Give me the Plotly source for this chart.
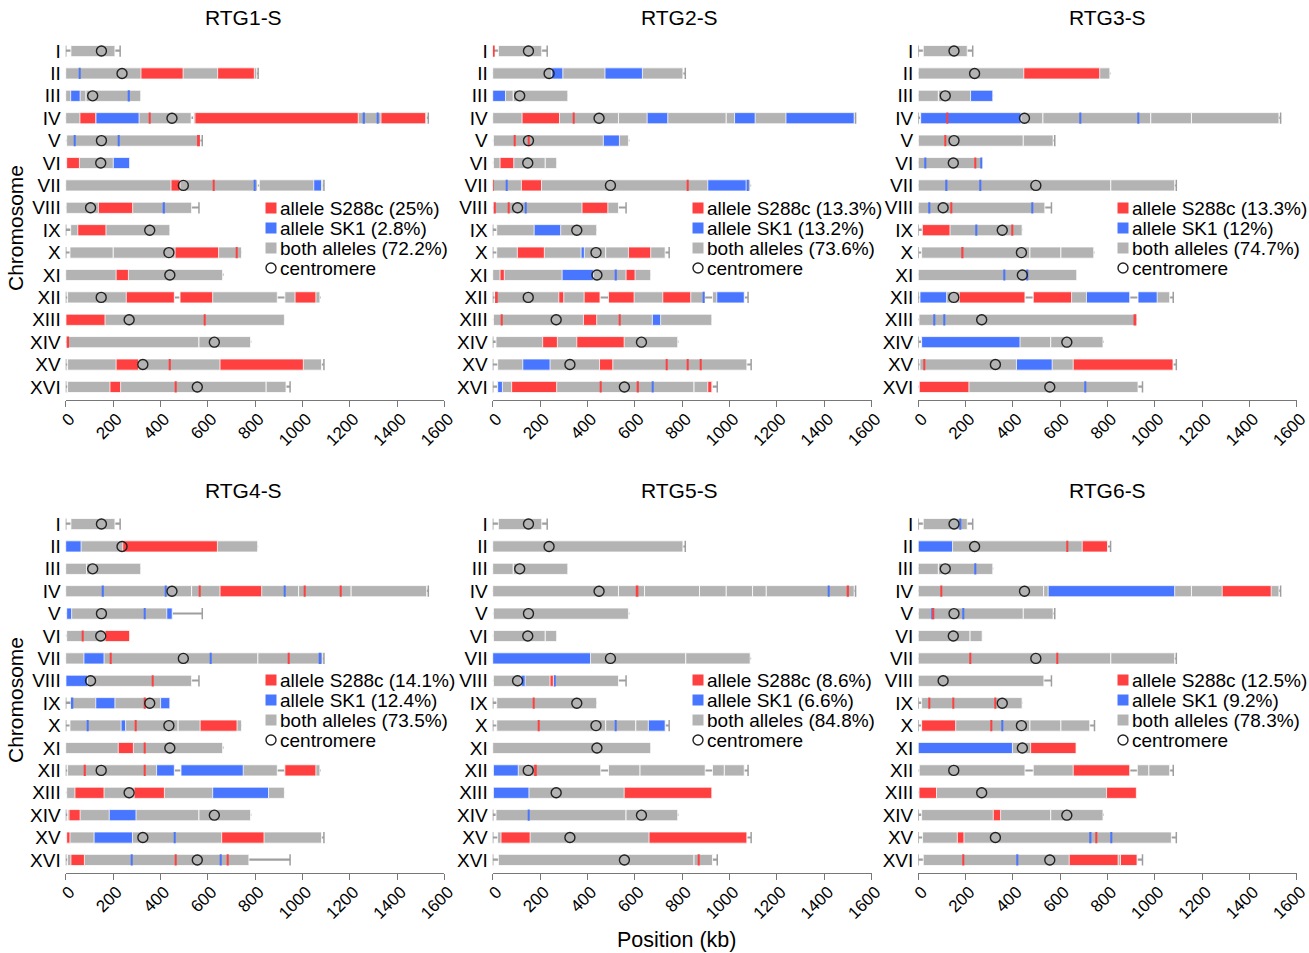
import plotly.graph_objects as go

W, H = 1309, 953

CHROMS = ["I", "II", "III", "IV", "V", "VI", "VII", "VIII", "IX", "X",
          "XI", "XII", "XIII", "XIV", "XV", "XVI"]
CHR_LEN = [230, 813, 317, 1532, 577, 270, 1091, 563, 440, 745, 667, 1078, 924, 784, 1091, 948]
CEN_POS = [151, 238, 114, 449, 151, 148, 497, 105, 355, 436, 440, 150, 268, 628, 326, 556]
X_TICKS = [0, 200, 400, 600, 800, 1000, 1200, 1400, 1600]

PANELS = ["RTG1-S", "RTG2-S", "RTG3-S", "RTG4-S", "RTG5-S", "RTG6-S"]
PCT_S288C = ["25%", "13.3%", "13.3%", "14.1%", "8.6%", "12.5%"]
PCT_SK1 = ["2.8%", "13.2%", "12%", "12.4%", "6.6%", "9.2%"]
PCT_BOTH = ["72.2%", "73.6%", "74.7%", "73.5%", "84.8%", "78.3%"]

# segments: (chromosome number, start kb, end kb)
RTG1_BOTH = [(1, 22, 208), (2, 0, 807), (3, 0, 86), (3, 86, 317), (4, 0, 530), (4, 540, 1525),
             (5, 4, 567), (6, 4, 270), (7, 0, 810), (7, 818, 1086), (8, 2, 532), (9, 21, 440),
             (10, 18, 201), (10, 201, 743), (11, 0, 663), (12, 8, 459), (12, 483, 894),
             (12, 926, 1074), (13, 1, 924), (14, 4, 563), (14, 563, 781), (15, 8, 1081),
             (16, 8, 847), (16, 847, 931)]
RTG1_S288C = [(2, 318, 496), (2, 642, 797), (4, 60, 127), (4, 352, 357), (4, 546, 1236),
              (4, 1332, 1521), (5, 555, 567), (6, 4, 58), (7, 445, 483), (7, 624, 629),
              (8, 138, 283), (9, 51, 170), (10, 462, 646), (10, 719, 724), (11, 213, 265),
              (12, 256, 459), (12, 483, 621), (12, 969, 1057), (13, 1, 166), (13, 586, 591),
              (14, 4, 14), (15, 213, 308), (15, 439, 444), (15, 652, 1004), (16, 187, 232),
              (16, 462, 467)]
RTG1_SK1 = [(2, 55, 60), (3, 21, 61), (3, 266, 271), (4, 127, 310), (4, 1259, 1264),
            (4, 1315, 1320), (5, 34, 39), (5, 221, 226), (6, 201, 270), (7, 797, 802),
            (7, 1048, 1081), (8, 414, 419)]

RTG2_BOTH = [(1, 24, 207), (2, 0, 803), (3, 0, 87), (3, 87, 317), (4, 0, 531), (4, 531, 986),
             (4, 986, 1526), (5, 3, 573), (6, 3, 222), (6, 222, 270), (7, 0, 1087), (8, 3, 531),
             (9, 17, 439), (10, 17, 477), (10, 477, 728), (11, 0, 667), (12, 10, 453),
             (12, 489, 895), (12, 928, 1062), (13, 3, 925), (14, 14, 781), (15, 21, 1073),
             (16, 21, 850), (16, 850, 927)]
RTG2_S288C = [(1, 2, 8), (4, 124, 282), (4, 341, 346), (5, 92, 97), (5, 151, 156), (6, 31, 89),
              (7, 0, 4), (7, 121, 206), (7, 819, 824), (8, 8, 13), (8, 64, 69), (8, 377, 486),
              (10, 104, 218), (10, 573, 667), (11, 31, 49), (11, 563, 601), (12, 10, 21),
              (12, 279, 300), (12, 386, 453), (12, 489, 597), (12, 718, 836), (13, 35, 40),
              (13, 383, 439), (13, 532, 537), (14, 211, 273), (14, 355, 555), (15, 451, 507),
              (15, 733, 738), (15, 820, 824), (15, 874, 879), (16, 80, 270), (16, 453, 458),
              (16, 612, 617), (16, 908, 925)]
RTG2_SK1 = [(2, 249, 296), (2, 474, 632), (3, 0, 54), (4, 652, 739), (4, 1021, 1108),
            (4, 1238, 1526), (5, 467, 535), (7, 58, 63), (7, 908, 1070), (7, 1076, 1081),
            (8, 138, 143), (9, 175, 287), (10, 373, 387), (11, 293, 425), (11, 519, 524),
            (12, 890, 895), (12, 946, 1062), (13, 674, 709), (15, 127, 242), (16, 21, 41),
            (16, 673, 678)]

RTG3_BOTH = [(1, 21, 207), (2, 0, 810), (3, 0, 85), (3, 85, 315), (4, 10, 527), (4, 527, 983),
             (4, 983, 1155), (4, 1155, 1525), (5, 1, 444), (5, 444, 570), (6, 0, 270),
             (7, 0, 814), (7, 814, 1084), (8, 0, 535), (9, 17, 439), (10, 14, 472),
             (10, 472, 603), (10, 603, 742), (11, 0, 670), (12, 7, 451), (12, 486, 894),
             (12, 929, 1063), (13, 3, 922), (14, 14, 560), (14, 560, 781), (15, 7, 1077),
             (16, 4, 929)]
RTG3_S288C = [(2, 446, 767), (4, 120, 125), (5, 111, 116), (6, 237, 242), (8, 136, 141),
              (9, 17, 134), (9, 395, 400), (10, 186, 191), (12, 173, 451), (12, 486, 648),
              (13, 910, 922), (15, 22, 27), (15, 655, 1077), (16, 4, 214)]
RTG3_SK1 = [(3, 221, 315), (4, 10, 434), (4, 684, 689), (4, 927, 932), (6, 29, 34),
            (6, 265, 270), (7, 118, 123), (7, 261, 266), (8, 44, 49), (8, 481, 486),
            (9, 242, 247), (11, 363, 368), (11, 457, 462), (12, 7, 120), (12, 711, 894),
            (12, 929, 1010), (13, 64, 69), (13, 106, 111), (14, 14, 430), (15, 415, 566),
            (16, 705, 710)]

RTG4_BOTH = [(1, 22, 208), (2, 0, 811), (3, 0, 89), (3, 89, 317), (4, 0, 532), (4, 532, 984),
             (4, 984, 1206), (4, 1206, 1525), (5, 4, 450), (6, 4, 270), (7, 0, 812),
             (7, 812, 1086), (8, 1, 532), (9, 22, 440), (10, 18, 475), (10, 475, 743),
             (11, 0, 663), (12, 8, 459), (12, 487, 894), (12, 926, 1074), (13, 4, 924),
             (14, 8, 563), (14, 563, 781), (15, 4, 1081), (16, 8, 774)]
RTG4_S288C = [(2, 241, 641), (4, 563, 568), (4, 652, 828), (4, 1006, 1011), (4, 1160, 1165),
              (6, 69, 74), (6, 166, 270), (7, 189, 194), (7, 938, 943), (8, 365, 370),
              (9, 331, 336), (10, 294, 299), (10, 568, 724), (11, 222, 286), (11, 331, 336),
              (12, 80, 85), (12, 330, 335), (12, 926, 1057), (13, 39, 162), (13, 289, 417),
              (14, 14, 61), (15, 4, 18), (15, 659, 838), (16, 22, 79), (16, 463, 468),
              (16, 682, 687)]
RTG4_SK1 = [(2, 0, 65), (4, 156, 161), (4, 419, 424), (4, 924, 929), (5, 4, 25), (5, 333, 338),
            (5, 427, 450), (7, 77, 162), (7, 610, 615), (7, 1073, 1080), (8, 1, 92),
            (9, 22, 32), (9, 127, 208), (9, 401, 440), (10, 90, 95), (10, 234, 253),
            (12, 384, 459), (12, 487, 750), (13, 621, 857), (14, 184, 297), (15, 120, 282),
            (15, 457, 462), (16, 275, 280), (16, 652, 657)]

RTG5_BOTH = [(1, 24, 207), (2, 0, 803), (3, 0, 87), (3, 87, 317), (4, 0, 531), (4, 531, 641),
             (4, 641, 873), (4, 873, 986), (4, 986, 1097), (4, 1097, 1155), (4, 1155, 1526),
             (5, 3, 573), (6, 3, 222), (6, 222, 270), (7, 0, 815), (7, 815, 1087), (8, 3, 531),
             (9, 17, 439), (10, 17, 477), (10, 477, 604), (10, 604, 728), (11, 0, 667),
             (12, 3, 456), (12, 489, 622), (12, 622, 897), (12, 928, 978), (12, 978, 1062),
             (13, 3, 925), (14, 14, 563), (14, 563, 781), (15, 21, 1073), (16, 24, 850),
             (16, 850, 928)]
RTG5_S288C = [(4, 604, 615), (4, 1497, 1504), (8, 242, 256), (9, 172, 177), (10, 190, 197),
              (12, 175, 186), (13, 555, 925), (15, 35, 158), (15, 660, 1073), (16, 869, 874)]
RTG5_SK1 = [(4, 1416, 1421), (7, 0, 413), (8, 120, 137), (8, 259, 264), (10, 518, 523),
            (10, 657, 728), (12, 3, 108), (13, 3, 153), (14, 151, 156)]

RTG6_BOTH = [(1, 21, 207), (2, 0, 800), (3, 0, 85), (3, 85, 315), (4, 0, 530), (4, 530, 1155),
             (4, 1155, 1525), (5, 1, 444), (5, 444, 570), (6, 0, 219), (6, 219, 270),
             (7, 0, 814), (7, 814, 1084), (8, 0, 531), (9, 14, 439), (10, 14, 472),
             (10, 472, 603), (10, 603, 725), (11, 0, 667), (12, 4, 451), (12, 486, 894),
             (12, 926, 975), (12, 975, 1063), (13, 3, 922), (14, 14, 560), (14, 560, 781),
             (15, 18, 1070), (16, 21, 925)]
RTG6_S288C = [(2, 627, 632), (2, 693, 800), (4, 96, 101), (4, 1285, 1492), (5, 63, 67),
              (7, 219, 224), (7, 585, 590), (9, 44, 49), (9, 146, 151), (9, 324, 329),
              (10, 14, 158), (10, 308, 313), (11, 475, 667), (12, 655, 894), (13, 3, 77),
              (13, 796, 922), (14, 317, 348), (15, 165, 193), (15, 751, 756), (16, 187, 192),
              (16, 638, 845), (16, 855, 925)]
RTG6_SK1 = [(1, 174, 179), (2, 0, 145), (3, 240, 245), (4, 549, 1084), (5, 58, 63),
            (5, 187, 192), (10, 353, 358), (11, 0, 398), (15, 727, 732), (15, 812, 817),
            (16, 416, 421)]

BOTH = [RTG1_BOTH, RTG2_BOTH, RTG3_BOTH, RTG4_BOTH, RTG5_BOTH, RTG6_BOTH]
S288C = [RTG1_S288C, RTG2_S288C, RTG3_S288C, RTG4_S288C, RTG5_S288C, RTG6_S288C]
SK1 = [RTG1_SK1, RTG2_SK1, RTG3_SK1, RTG4_SK1, RTG5_SK1, RTG6_SK1]

RED = "#FF4040"
BLUE = "#4876FF"
GRAY = "#B3B3B3"
LINE_GRAY = "#9E9E9E"
FONT = "Arial, Liberation Sans, sans-serif"


def px_x(p):
    return p / W


def px_y(p):
    return 1 - p / H


# layout geometry (pixels)
X_DOM = [(65.7, 444.4), (492.7, 871.7), (918.3, 1296.7)]
Y_DOM = [(37.6, 400.4), (510.6, 873.4)]
TITLE_X = [243, 680, 1107]
TITLE_Y = [18, 490]
LEG_SYM_X = [271, 698, 1123]
LEG_ROW_Y = [208, 680]
LEG_STEP = 20

fig = go.Figure()
layout_axes = {}
annotations = []
shapes = []

for i, name in enumerate(PANELS):
    r, c = divmod(i, 3)
    k = "" if i == 0 else str(i + 1)
    xa, ya = "x" + k, "y" + k

    # whisker line along the full chromosome length
    fig.add_trace(go.Bar(
        orientation="h", y=list(range(1, 17)), x=CHR_LEN, base=[0] * 16, width=0.07,
        marker=dict(color=LINE_GRAY, line=dict(width=0)), showlegend=False,
        hoverinfo="skip", xaxis=xa, yaxis=ya))

    def seg_bar(segs, color, label, outline):
        ys = [s[0] for s in segs]
        xs = [s[2] - s[1] for s in segs]
        bs = [s[1] for s in segs]
        lw = [0.8 if (s[2] - s[1]) > 12 else 0 for s in segs] if outline else 0.8
        return go.Bar(orientation="h", y=ys, x=xs, base=bs, width=0.5,
                      marker=dict(color=color, line=dict(color="white", width=lw)),
                      name=label, showlegend=False, xaxis=xa, yaxis=ya)

    fig.add_trace(seg_bar(BOTH[i], GRAY, "both alleles", False))
    fig.add_trace(seg_bar(SK1[i], BLUE, "allele SK1", True))
    fig.add_trace(seg_bar(S288C[i], RED, "allele S288c", True))

    # end caps where the bar does not reach the chromosome end
    cx, cy = [], []
    all_segs = BOTH[i] + SK1[i] + S288C[i]
    for ci in range(16):
        segs = [s for s in all_segs if s[0] == ci + 1]
        lo = min(s[1] for s in segs)
        hi = max(s[2] for s in segs)
        if lo > 4:
            cx.append(0)
            cy.append(ci + 1)
        if hi < CHR_LEN[ci] - 4:
            cx.append(CHR_LEN[ci])
            cy.append(ci + 1)
    fig.add_trace(go.Scatter(x=cx, y=cy, mode="markers",
                             marker=dict(symbol="line-ns-open", size=8, color=LINE_GRAY,
                                         line=dict(color=LINE_GRAY, width=1.5)),
                             showlegend=False, hoverinfo="skip", xaxis=xa, yaxis=ya))

    fig.add_trace(go.Scatter(x=CEN_POS, y=list(range(1, 17)), mode="markers",
                             marker=dict(symbol="circle-open", size=10, color="#222222",
                                         line=dict(color="#222222", width=1.4)),
                             name="centromere", showlegend=False, xaxis=xa, yaxis=ya))

    x0, x1 = X_DOM[c]
    y0, y1 = Y_DOM[r]
    layout_axes["xaxis" + k] = dict(
        domain=[px_x(x0), px_x(x1)], range=[0, 1600], anchor=ya, automargin=False,
        tickvals=X_TICKS, ticktext=[str(t) for t in X_TICKS], tickangle=-45,
        ticks="outside", ticklen=6, tickcolor="#777777", showline=True,
        linecolor="#777777", linewidth=1, showgrid=False, zeroline=False,
        ticklabelshift=4, ticklabelstandoff=-5, ticklabeloverflow="allow",
        tickfont=dict(size=17, color="black", family=FONT))
    layout_axes["yaxis" + k] = dict(
        domain=[px_y(y1), px_y(y0)], range=[16.6, 0.4], anchor=xa, automargin=False,
        tickvals=list(range(1, 17)), ticktext=CHROMS, showline=False,
        showgrid=False, zeroline=False, ticks="", ticklabelstandoff=4,
        tickfont=dict(size=19, color="black", family=FONT))

    # legend (keys drawn as shapes, labels as text)
    sx = LEG_SYM_X[c]
    ry = LEG_ROW_Y[r]
    labels = ["allele S288c (%s)" % PCT_S288C[i], "allele SK1 (%s)" % PCT_SK1[i],
              "both alleles (%s)" % PCT_BOTH[i], "centromere"]
    colors = [RED, BLUE, GRAY, None]
    for j, (lab, colr) in enumerate(zip(labels, colors)):
        cyp = ry + j * LEG_STEP
        if colr:
            shapes.append(dict(type="rect", xref="paper", yref="paper",
                               x0=px_x(sx - 5.5), x1=px_x(sx + 5.5),
                               y0=px_y(cyp + 5.5), y1=px_y(cyp - 5.5),
                               fillcolor=colr, line=dict(width=0)))
        else:
            shapes.append(dict(type="circle", xref="paper", yref="paper",
                               x0=px_x(sx - 5), x1=px_x(sx + 5),
                               y0=px_y(cyp + 5), y1=px_y(cyp - 5),
                               fillcolor="rgba(0,0,0,0)",
                               line=dict(color="#222222", width=1.4)))
        annotations.append(dict(text=lab, x=px_x(sx + 7), y=px_y(cyp), xref="paper",
                                yref="paper", showarrow=False, xanchor="left",
                                yanchor="middle",
                                font=dict(size=19, color="black", family=FONT)))

    annotations.append(dict(text=name, x=px_x(TITLE_X[c]), y=px_y(TITLE_Y[r]),
                            xref="paper", yref="paper", showarrow=False,
                            xanchor="center", yanchor="middle",
                            font=dict(size=21, color="black", family=FONT)))

for cyy in [228, 700]:
    annotations.append(dict(text="Chromosome", x=px_x(15), y=px_y(cyy), xref="paper",
                            yref="paper", showarrow=False, textangle=-90,
                            xanchor="center", yanchor="middle",
                            font=dict(size=21, color="black", family=FONT)))
annotations.append(dict(text="Position (kb)", x=px_x(677), y=px_y(940), xref="paper",
                        yref="paper", showarrow=False, xanchor="center", yanchor="middle",
                        font=dict(size=21.5, color="black", family=FONT)))

fig.update_layout(
    width=W, height=H, margin=dict(l=0, r=0, t=0, b=0), showlegend=False,
    paper_bgcolor="white", plot_bgcolor="white", barmode="overlay",
    font=dict(family=FONT, color="black"), annotations=annotations, shapes=shapes,
    **layout_axes)

fig.write_html("out.html", config={"displayModeBar": False},
               post_script="document.body.style.margin='0px';")
